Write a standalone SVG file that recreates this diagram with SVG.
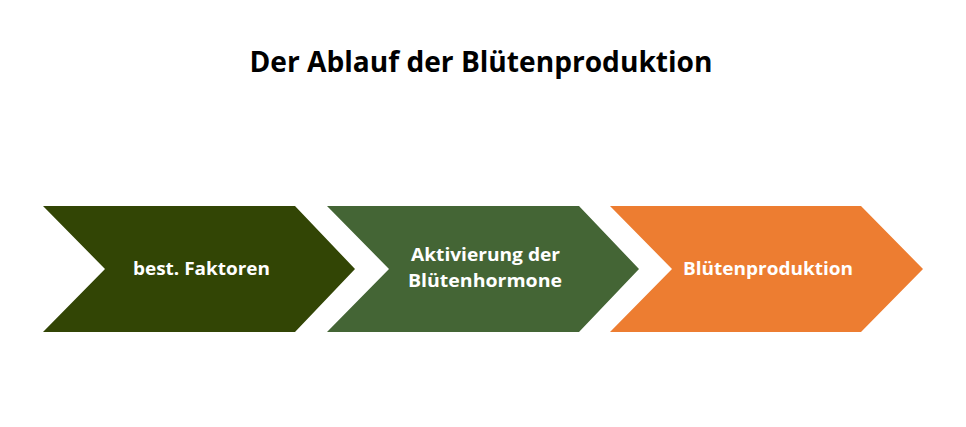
<svg xmlns="http://www.w3.org/2000/svg" width="966" height="427" viewBox="0 0 966 427">
<style>
.t{font-family:"Open Sans","Liberation Sans",sans-serif;font-weight:bold;text-anchor:middle}
.lbl{fill:#ffffff;font-size:18px}
.title{fill:#000000;font-size:29px}
</style>
<rect x="0" y="0" width="966" height="427" fill="#ffffff"/>
<text class="t title" x="481" y="72" textLength="463" lengthAdjust="spacingAndGlyphs">Der Ablauf der Blütenproduktion</text>
<g id="connectors"></g>
<g id="node1">
<polygon points="43,206 295,206 355,269 295,332 43,332 105,269" fill="#324505"/>
<text class="t lbl" x="201.5" y="275" textLength="137" lengthAdjust="spacingAndGlyphs">best. Faktoren</text>
</g>
<g id="node2">
<polygon points="327,206 579,206 639,269 579,332 327,332 389,269" fill="#446535"/>
<text class="t lbl" x="485.5" y="261" textLength="149" lengthAdjust="spacingAndGlyphs">Aktivierung der</text>
<text class="t lbl" x="485" y="287" textLength="154" lengthAdjust="spacingAndGlyphs">Blütenhormone</text>
</g>
<g id="node3">
<polygon points="610,206 861,206 923,269 861,332 610,332 672,269" fill="#ED7D31"/>
<text class="t lbl" x="768" y="275" textLength="170" lengthAdjust="spacingAndGlyphs">Blütenproduktion</text>
</g>
</svg>
